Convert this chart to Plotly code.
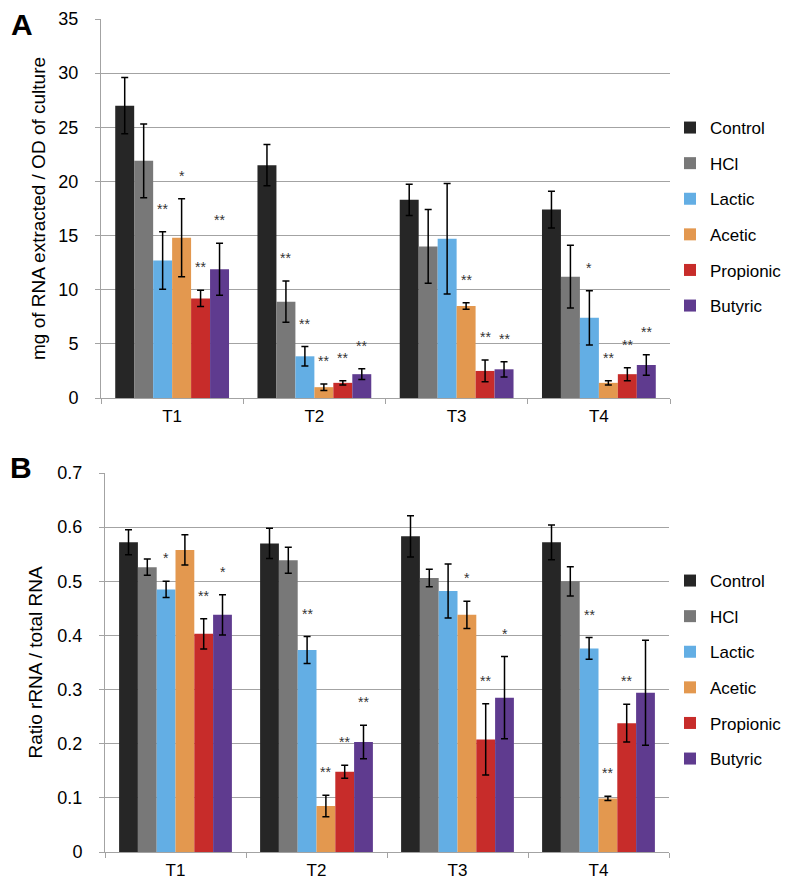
import plotly.graph_objects as go

times = ["T1", "T2", "T3", "T4"]
treatments = ["Control", "HCl", "Lactic", "Acetic", "Propionic", "Butyric"]
colors = ["#262626", "#787878", "#63aee4", "#e3984f", "#c72c2a", "#5f3b8f"]

# panel A - mg of RNA extracted / OD of culture
rna_control = [27.0, 21.5, 18.3, 17.4]
rna_hcl = [21.9, 8.9, 14.0, 11.2]
rna_lactic = [12.7, 3.85, 14.7, 7.4]
rna_acetic = [14.8, 1.0, 8.5, 1.4]
rna_propionic = [9.2, 1.4, 2.5, 2.2]
rna_butyric = [11.9, 2.2, 2.65, 3.05]

rna_err_control = [2.6, 1.9, 1.45, 1.7]
rna_err_hcl = [3.4, 1.9, 3.4, 2.9]
rna_err_lactic = [2.65, 0.9, 5.1, 2.5]
rna_err_acetic = [3.6, 0.3, 0.3, 0.2]
rna_err_propionic = [0.75, 0.2, 1.0, 0.6]
rna_err_butyric = [2.4, 0.5, 0.7, 0.95]

rna_sig_control = ["", "", "", ""]
rna_sig_hcl = ["", "**", "", ""]
rna_sig_lactic = ["**", "**", "", "*"]
rna_sig_acetic = ["*", "**", "**", "**"]
rna_sig_propionic = ["**", "**", "**", "**"]
rna_sig_butyric = ["**", "**", "**", "**"]

# panel B - ratio rRNA / total RNA
ratio_control = [0.572, 0.570, 0.583, 0.572]
ratio_hcl = [0.526, 0.539, 0.506, 0.500]
ratio_lactic = [0.485, 0.373, 0.482, 0.376]
ratio_acetic = [0.558, 0.085, 0.438, 0.099]
ratio_propionic = [0.403, 0.148, 0.208, 0.238]
ratio_butyric = [0.438, 0.203, 0.285, 0.294]

ratio_err_control = [0.023, 0.028, 0.038, 0.032]
ratio_err_hcl = [0.015, 0.024, 0.016, 0.027]
ratio_err_lactic = [0.015, 0.025, 0.050, 0.020]
ratio_err_acetic = [0.028, 0.020, 0.025, 0.004]
ratio_err_propionic = [0.028, 0.012, 0.066, 0.035]
ratio_err_butyric = [0.037, 0.031, 0.076, 0.097]

ratio_sig_control = ["", "", "", ""]
ratio_sig_hcl = ["", "", "", ""]
ratio_sig_lactic = ["*", "**", "", "**"]
ratio_sig_acetic = ["", "**", "*", "**"]
ratio_sig_propionic = ["**", "**", "**", "**"]
ratio_sig_butyric = ["*", "**", "*", ""]

W, H = 793, 879
ML, MR, MT, MB = 93, 131, 11, 35
pw, ph = W - ML - MR, H - MT - MB
BARGAP = 0.2


def px_x(v):
    return (v - ML) / pw


def px_y(v):
    return (H - MB - v) / ph


panels = [
    dict(
        means=[rna_control, rna_hcl, rna_lactic, rna_acetic, rna_propionic, rna_butyric],
        errs=[rna_err_control, rna_err_hcl, rna_err_lactic, rna_err_acetic,
              rna_err_propionic, rna_err_butyric],
        sigs=[rna_sig_control, rna_sig_hcl, rna_sig_lactic, rna_sig_acetic,
              rna_sig_propionic, rna_sig_butyric],
        xa="x", ya="y", legend="legend", left=93, right=662,
    ),
    dict(
        means=[ratio_control, ratio_hcl, ratio_lactic, ratio_acetic, ratio_propionic, ratio_butyric],
        errs=[ratio_err_control, ratio_err_hcl, ratio_err_lactic, ratio_err_acetic,
              ratio_err_propionic, ratio_err_butyric],
        sigs=[ratio_sig_control, ratio_sig_hcl, ratio_sig_lactic, ratio_sig_acetic,
              ratio_sig_propionic, ratio_sig_butyric],
        xa="x2", ya="y2", legend="legend2", left=97, right=661,
    ),
]

FONT = "Liberation Sans, Arial, sans-serif"
GRID = "#a3a3a3"

fig = go.Figure()
stars = []

for p in panels:
    for name, col, m, e in zip(treatments, colors, p["means"], p["errs"]):
        fig.add_trace(go.Bar(
            x=times, y=m, name=name,
            marker=dict(color=col, line=dict(width=0)),
            error_y=dict(type="data", array=e, color="black", thickness=1.5, width=3.5),
            xaxis=p["xa"], yaxis=p["ya"],
            legend=p["legend"], legendgroup=p["legend"] + name,
        ))
    # significance stars above each error bar, shifted to their bar's slot
    bar_w = (p["right"] - p["left"]) / len(times) * (1 - BARGAP) / len(treatments)
    for i, (m, e, s) in enumerate(zip(p["means"], p["errs"], p["sigs"])):
        for t, a, b, txt in zip(times, m, e, s):
            if not txt:
                continue
            stars.append(dict(
                text=txt, x=t, y=a + b, xref=p["xa"], yref=p["ya"],
                xanchor="center", yanchor="bottom", yshift=13,
                xshift=(i - (len(treatments) - 1) / 2) * bar_w,
                showarrow=False, font=dict(size=14, color="#333333", family=FONT),
            ))

axis_common = dict(
    showline=True, linecolor=GRID, linewidth=1, automargin=False,
    tickfont=dict(size=18, color="black", family=FONT),
)
xaxis_common = dict(
    tickson="boundaries", ticks="outside", ticklen=5, tickcolor=GRID,
    ticklabelstandoff=3, showgrid=False,
    showline=True, linecolor=GRID, linewidth=1, automargin=False,
    tickfont=dict(size=17, color="black", family=FONT),
)
yaxis_common = dict(
    ticks="outside", ticklen=5, tickcolor=GRID, showgrid=True,
    gridcolor=GRID, gridwidth=1, zeroline=False, ticklabelstandoff=13,
    **axis_common,
)

fig.update_layout(
    width=W, height=H,
    margin=dict(l=ML, r=MR, t=MT, b=MB, autoexpand=False),
    paper_bgcolor="white", plot_bgcolor="white",
    barmode="group", bargap=BARGAP, bargroupgap=0,
    font=dict(family=FONT, color="black"),
    xaxis=dict(domain=[0, 1], anchor="y", **xaxis_common),
    yaxis=dict(domain=[px_y(390), 1], anchor="x", range=[0, 35], dtick=5,
               title=dict(text="mg of RNA extracted / OD of culture",
                          font=dict(size=19, family=FONT), standoff=7),
               **yaxis_common),
    xaxis2=dict(domain=[px_x(97), px_x(661)], anchor="y2", **xaxis_common),
    yaxis2=dict(domain=[0, px_y(465)], anchor="x2", range=[0, 0.7], dtick=0.1,
                title=dict(text="Ratio rRNA / total RNA",
                           font=dict(size=19, family=FONT), standoff=9),
                **yaxis_common),
    legend=dict(x=px_x(662), y=px_y(102), xanchor="left", yanchor="top",
                font=dict(size=17, family=FONT), tracegroupgap=10.5,
                bgcolor="rgba(0,0,0,0)"),
    legend2=dict(x=px_x(662), y=px_y(555), xanchor="left", yanchor="top",
                 font=dict(size=17, family=FONT), tracegroupgap=10.5,
                 bgcolor="rgba(0,0,0,0)"),
    annotations=stars + [
        dict(text="<b>A</b>", x=px_x(14), y=px_y(16), xref="paper", yref="paper",
             xanchor="center", yanchor="middle", showarrow=False,
             font=dict(size=30, family=FONT, color="black")),
        dict(text="<b>B</b>", x=px_x(13), y=px_y(459), xref="paper", yref="paper",
             xanchor="center", yanchor="middle", showarrow=False,
             font=dict(size=30, family=FONT, color="black")),
    ],
)

fig.write_html("out.html")
